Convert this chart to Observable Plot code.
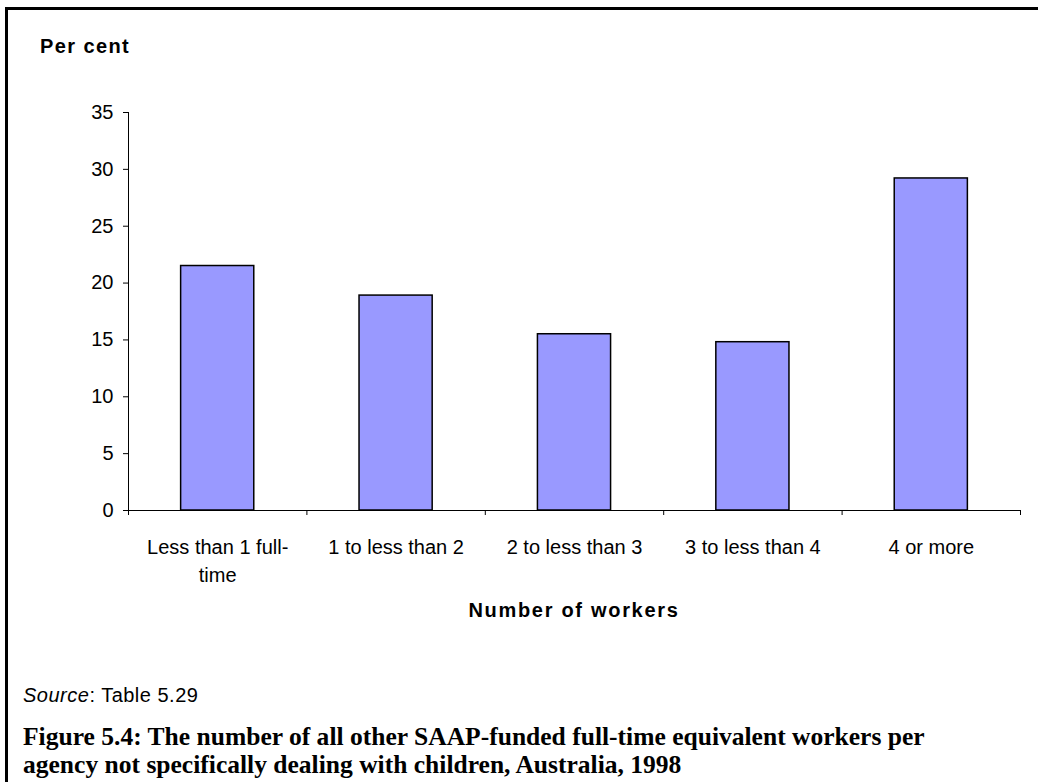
<!DOCTYPE html>
<html>
<head>
<meta charset="utf-8">
<script src="https://cdn.jsdelivr.net/npm/d3@7"></script>
<script src="https://cdn.jsdelivr.net/npm/@observablehq/plot@0.6"></script>
<style>
  html, body { margin: 0; padding: 0; background: #fff; width: 1038px; height: 782px; overflow: hidden; }
  #frame { position: absolute; left: 5px; top: 7px; width: 1100px; height: 900px; border-left: 3px solid #000; border-top: 3px solid #000; box-sizing: border-box; }
  #chart { position: absolute; left: 0; top: 0; }
  .lbl { position: absolute; font-family: "Liberation Sans", Arial, sans-serif; font-size: 20px; line-height: 20px; color: #000; white-space: nowrap; }
  .bold { font-weight: bold; letter-spacing: 1.4px; }
  #caption { position: absolute; left: 23px; font-family: "Liberation Serif", "Times New Roman", serif; font-weight: bold; line-height: 28px; color: #000; white-space: nowrap; }
</style>
</head>
<body>
<div id="frame"></div>
<div id="chart"></div>
<div class="lbl bold" style="left:40px; top:36px;">Per cent</div>
<div class="lbl bold" style="left:128px; width:892px; text-align:center; top:600px; letter-spacing:1.7px;">Number of workers</div>
<div class="lbl" style="left:23px; top:685px; letter-spacing:0.5px;"><i>Source</i>: Table 5.29</div>
<div id="caption"><span id="cap1">Figure 5.4: The number of all other SAAP-funded full-time equivalent workers per</span><br><span>agency not specifically dealing with children, Australia, 1998</span></div>
<script>
const categories = ["Less than 1 full-\ntime", "1 to less than 2", "2 to less than 3", "3 to less than 4", "4 or more"];
const percents = [21.5, 18.9, 15.5, 14.8, 29.2];
const yTicks = [0, 5, 10, 15, 20, 25, 30, 35];

const data = categories.map((c, i) => ({category: c, i, value: percents[i]}));
const gap = 0.295;

const chart = Plot.plot({
  width: 1038,
  height: 600,
  marginLeft: 128,
  marginRight: 18,
  marginTop: 112,
  marginBottom: 90,
  style: {fontFamily: "'Liberation Sans', Arial, sans-serif", fontSize: "20px", color: "#000", background: "transparent", overflow: "visible"},
  x: {type: "linear", domain: [0, categories.length]},
  y: {domain: [0, 35]},
  marks: [
    Plot.rectY(data, {x1: d => d.i + gap, x2: d => d.i + 1 - gap, y1: 0, y2: "value", fill: "#9999ff", stroke: "#000", strokeWidth: 1.5}),
    Plot.ruleY([0], {stroke: "#000"}),
    Plot.ruleX([0], {y1: 0, y2: 35, stroke: "#000"}),
    Plot.axisY({ticks: yTicks, tickSize: 5, tickPadding: 10, label: null, fontSize: 20, stroke: "#000"}),
    Plot.axisX({ticks: d3.range(0, categories.length + 1), tickSize: 5, tickFormat: () => "", label: null, stroke: "#000"}),
    Plot.axisX({ticks: categories.map((c, i) => i + 0.5), tickSize: 0, tickPadding: 24, tickFormat: d => categories[Math.floor(d)], lineHeight: 1.4, label: null, fontSize: 20})
  ]
});
document.getElementById("chart").appendChild(chart);

// fit caption font size so the first line spans the same width as the original
const cap = document.getElementById("caption");
const c1 = document.getElementById("cap1");
let fs = 21;
cap.style.fontSize = fs + "px";
const w = c1.getBoundingClientRect().width;
fs = fs * 902 / w;
cap.style.fontSize = fs + "px";
// baseline of first line at 746
const ascent = 0.891 * fs, content = 1.107 * fs;
cap.style.top = (746 - ((28 - content) / 2 + ascent)) + "px";
</script>
</body>
</html>
